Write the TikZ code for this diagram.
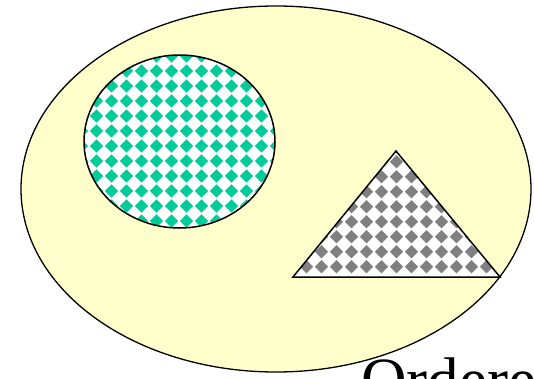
\documentclass[tikz,border=0pt]{standalone}
\usepackage{fontspec}
\setmainfont{Liberation Serif}
\usetikzlibrary{positioning}

\begin{document}
\begin{tikzpicture}[
    x=1pt, y=-1pt,
    outerfill/.style={fill=paleyellow, draw=black, line width=1.3pt},
    edgeline/.style={draw=black, line width=1.5pt},
]

% ===== Colors =====
\definecolor{paleyellow}{RGB}{255,255,204}
\definecolor{dotgreen}{RGB}{0,204,153}
\definecolor{dotgray}{RGB}{128,128,128}

% ===== Canvas (pixel grid of the reference) =====
\useasboundingbox (0,0) rectangle (534,379);
\clip (0,0) rectangle (534,379);

% ===== Layout =====
\def\dsz{6.6}   % half diagonal of one diamond
\def\dstep{15}  % spacing of the diamond grid

\coordinate (setc) at (276,189);
\coordinate (ballc) at (179.5,141.5);
\coordinate (apex) at (396,151);
\coordinate (baseL) at (293,277);
\coordinate (baseR) at (500,277);

% ===== Outer set =====
\draw[outerfill] (setc) ellipse [x radius=255, y radius=183];

% ===== Circle with green diamonds =====
\fill[white] (ballc) ellipse [x radius=95.5, y radius=86.5];
\begin{scope}
    \clip (ballc) ellipse [x radius=95.5, y radius=86.5];
    \foreach \i in {-1,...,13} {
        \foreach \j in {-1,...,11} {
            \fill[dotgreen] ({96.5+\dstep*\i}, {71+\dstep*\j}) ++(0,-\dsz) -- ++(\dsz,\dsz) -- ++(-\dsz,\dsz) -- ++(-\dsz,-\dsz) -- cycle;
        }
    }
\end{scope}
\draw[edgeline] (ballc) ellipse [x radius=95.5, y radius=86.5];

% ===== Triangle with gray diamonds =====
\fill[white] (apex) -- (baseR) -- (baseL) -- cycle;
\begin{scope}
    \clip (apex) -- (baseR) -- (baseL) -- cycle;
    \foreach \i in {-8,...,8} {
        \foreach \j in {0,...,8} {
            \fill[dotgray] ({396.5+\dstep*\i}, {266.7-\dstep*\j}) ++(0,-\dsz) -- ++(\dsz,\dsz) -- ++(-\dsz,\dsz) -- ++(-\dsz,-\dsz) -- cycle;
        }
    }
\end{scope}
\draw[edgeline, line join=miter] (apex) -- (baseR) -- (baseL) -- cycle;

% ===== Caption (cut off by the lower edge) =====
\node[anchor=base west, inner sep=0pt, font=\fontsize{63}{70}\selectfont] (caption) at (361,401.7) {Ordered};

\end{tikzpicture}
\end{document}
